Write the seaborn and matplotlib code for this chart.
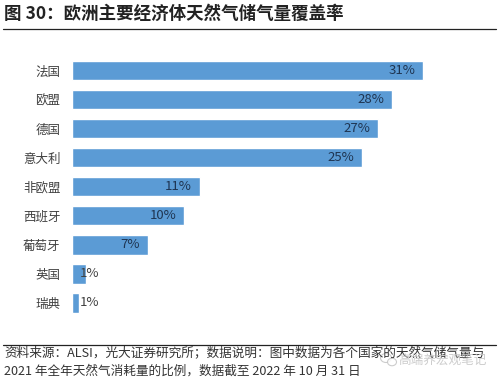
# -*- coding: utf-8 -*-
import matplotlib
matplotlib.use('Agg')
import matplotlib.pyplot as plt
from matplotlib.patches import Ellipse
import seaborn as sns
import pandas as pd

# values
countries = ['法国', '欧盟', '德国', '意大利', '非欧盟', '西班牙', '葡萄牙', '英国', '瑞典']
coverage = [31.0, 28.2, 27.0, 25.6, 11.3, 9.9, 6.7, 1.3, 0.7]
value_labels = ['31%', '28%', '27%', '25%', '11%', '10%', '7%', '1%', '1%']

title_text = '图 30：欧洲主要经济体天然气储气量覆盖率'
note_line1 = '资料来源：ALSI，光大证券研究所；数据说明：图中数据为各个国家的天然气储气量与'
note_line2 = '2021 年全年天然气消耗量的比例，数据截至 2022 年 10 月 31 日'
watermark = '高端养宏观笔记'

W, H = 500, 381

sns.set_theme(style='white')
plt.rcParams['font.family'] = ['Noto Sans CJK SC', 'DejaVu Sans']

df = pd.DataFrame({'country': countries, 'coverage': coverage})

fig = plt.figure(figsize=(W / 100, H / 100), dpi=100)
ax = fig.add_axes([71.5 / W, 1 - 317.5 / H, 418 / W, 261.5 / H])

sns.barplot(data=df, x='coverage', y='country', color='#5B9BD5', saturation=1,
            width=0.665, ax=ax)

ax.set_xlim(0, 418 / 11.35)
ax.set_ylim(8.5, -0.5)
ax.set_xlabel('')
ax.set_ylabel('')
ax.set_xticks([])
ax.tick_params(axis='y', length=0, pad=8, labelsize=9, labelcolor='#404040')
sns.despine(ax=ax, left=True, bottom=True)

# labels sit inside the bar end, the two tiny bars get theirs just past the start
for i, (v, lab) in enumerate(zip(coverage, value_labels)):
    if v < 2:
        ax.annotate(lab, (0.7, i), xytext=(0, 0), textcoords='offset points',
                    ha='left', va='center', fontsize=9.5, color='#404040')
    else:
        ax.annotate(lab, (v, i), xytext=(-5.5, 0), textcoords='offset points',
                    ha='right', va='center', fontsize=9.5, color='#1F3552')

fig.text(4 / W, 1 - 14 / H, title_text, fontsize=12.6, fontweight='bold',
         color='#222222', ha='left', va='center')
fig.add_artist(plt.Line2D([3 / W, 496 / W], [1 - 29 / H] * 2, color='#222222', lw=0.9))
fig.add_artist(plt.Line2D([3 / W, 496 / W], [1 - 344.5 / H] * 2, color='#222222', lw=0.9))

fig.text(4 / W, 1 - 353.5 / H, note_line1, fontsize=9.1, color='#333333', ha='left', va='center')
fig.text(4 / W, 1 - 371 / H, note_line2, fontsize=9.1, color='#333333', ha='left', va='center')

# watermark over the note, with its little chat icon
for cx, cy, w, h in [(386, 358, 11, 9), (392, 362, 9, 7.5)]:
    fig.add_artist(Ellipse((cx / W, 1 - cy / H), w / W, h / H, transform=fig.transFigure,
                           facecolor='white', edgecolor='#C4C4C4', lw=0.8, alpha=0.85))
fig.text(398 / W, 1 - 360 / H, watermark, fontsize=9.1, color='#C4C4C4', alpha=0.85,
         ha='left', va='center')

fig.savefig('out.png', dpi=100)
plt.close(fig)
